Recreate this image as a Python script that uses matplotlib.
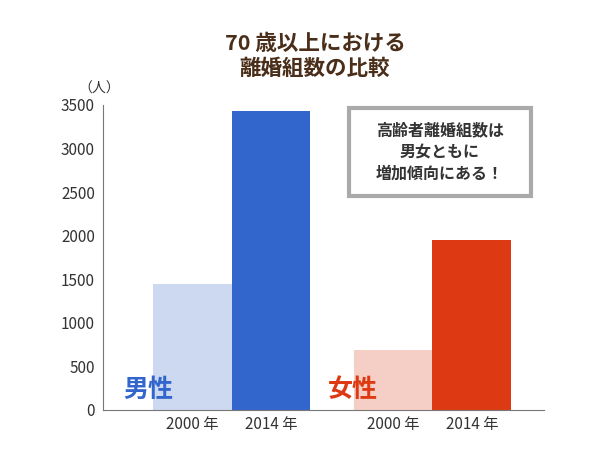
import matplotlib.pyplot as plt
from matplotlib.patches import FancyBboxPatch

plt.rcParams['font.family'] = ['Noto Sans CJK JP', 'DejaVu Sans']

# data
years = ['2000 年', '2014 年', '2000 年', '2014 年']
counts = [1440, 3430, 690, 1950]
colors = ['#cdd9f1', '#3366cc', '#f5cfc6', '#dd3a13']
positions = [1.13, 2.13, 3.68, 4.68]

fig = plt.figure(figsize=(6, 4.5), dpi=100)
ax = fig.add_axes([0.172, 0.089, 0.735, 0.678])

ax.bar(positions, counts, width=1.0, color=colors)
ax.set_xlim(0, 5.6)
ax.set_ylim(0, 3500)
ax.set_yticks(range(0, 3501, 500))
ax.set_xticks(positions)
ax.set_xticklabels(years, fontsize=11, color='#333333')
ax.tick_params(axis='x', length=0, pad=4)
ax.tick_params(axis='y', labelsize=11, colors='#333333', length=0, pad=6)
for s in ['top', 'right']:
    ax.spines[s].set_visible(False)
for s in ['left', 'bottom']:
    ax.spines[s].set_color('#777777')

ax.text(0.25, 150, '男性', fontsize=18, fontweight='bold', color='#3366cc')
ax.text(2.85, 150, '女性', fontsize=18, fontweight='bold', color='#dd3a13')

fig.text(0.13, 0.795, '（人）', fontsize=10, color='#333333')
fig.text(0.525, 0.875, '70 歳以上における\n離婚組数の比較', ha='center', va='center',
         fontsize=15.5, fontweight='bold', color='#4a2e1a', linespacing=1.25)

box = FancyBboxPatch((0.582, 0.565), 0.303, 0.194, boxstyle='square,pad=0',
                     transform=fig.transFigure, facecolor='white',
                     edgecolor='#aaaaaa', linewidth=3)
fig.patches.append(box)
fig.text(0.733, 0.662, '高齢者離婚組数は\n男女ともに\n増加傾向にある！', ha='center', va='center',
         fontsize=11.5, fontweight='bold', color='#333333', linespacing=1.45)

fig.savefig('out.png', dpi=100)
